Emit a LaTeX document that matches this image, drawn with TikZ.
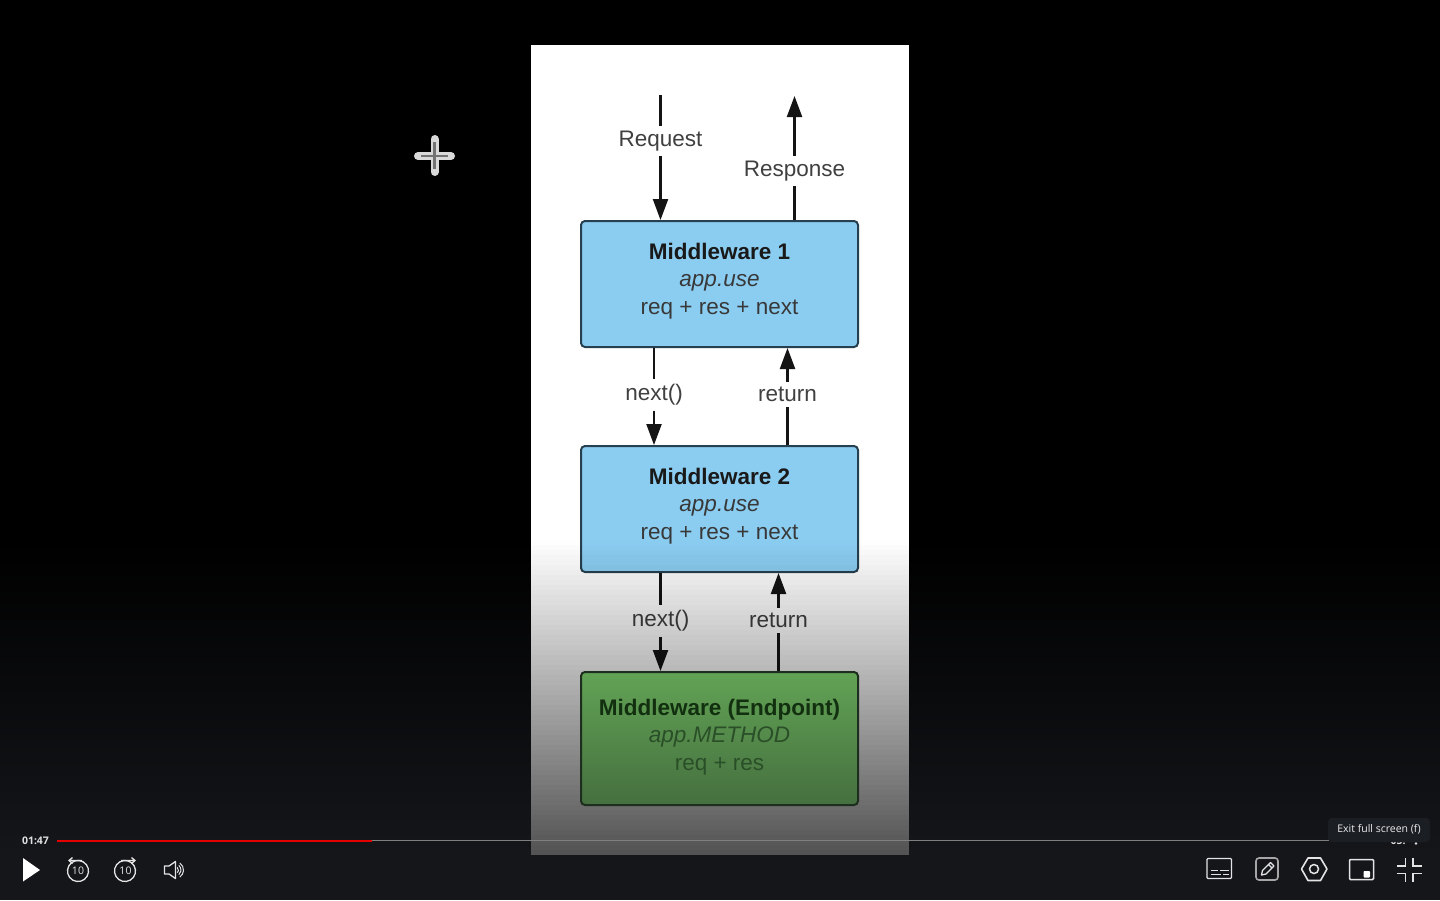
\documentclass[tikz,border=0pt]{standalone}
\usepackage{fontspec}
\setmainfont{Liberation Sans}
\newfontfamily\uifont{Open Sans}
\usetikzlibrary{arrows.meta}
\pgfdeclarelayer{toplayer}
\pgfsetlayers{main,toplayer}
\definecolor{pagetop}{HTML}{000000}
\definecolor{pagebar}{HTML}{14161A}
\definecolor{blueboxfill}{HTML}{8BCDF1}
\definecolor{blueboxline}{HTML}{27404F}
\definecolor{greenboxtop}{HTML}{62A355}
\definecolor{greenboxbottom}{HTML}{456F3F}
\definecolor{greenboxline}{HTML}{1E2E1E}
\definecolor{greentitle}{HTML}{12300F}
\definecolor{greenbody}{HTML}{2A4F28}
\definecolor{tiptone}{HTML}{1B1F24}
\definecolor{icontone}{HTML}{E4E4E4}
\tikzset{
  x=1pt,y=-1pt,
  flowbox/.style={draw=blueboxline,fill=blueboxfill,line width=2pt,rounded corners=4pt,minimum width=277pt,inner sep=0pt},
  endbox/.style={flowbox,draw=greenboxline,top color=greenboxtop,bottom color=greenboxbottom},
  boxtext/.style={align=center,font=\fontsize{22.5}{27.5}\selectfont,text=black!78,inner sep=0pt},
  endtext/.style={boxtext,text=greenbody},
  flowlabel/.style={font=\fontsize{22.5}{26}\selectfont,text=black!75,inner ysep=5pt,inner xsep=1pt},
  flowline/.style={draw=black!92,line width=2.2pt},
  flowarrow/.style={flowline,-{Triangle[length=21pt,width=15pt]}},
  iconline/.style={draw=icontone,line width=1.3pt},
}
\begin{document}
\begin{tikzpicture}
\useasboundingbox (0,0) rectangle (1440,900);
% page
\fill[pagetop] (0,0) rectangle (1440,541);
\shade[top color=pagetop,bottom color=pagebar] (0,540) rectangle (1440,855);
\fill[pagebar] (0,854) rectangle (1440,900);
% slide
\fill[white] (531,45) rectangle (909,855);
% boxes
\node[flowbox,minimum height=126pt] (m1) at (719.5,284) {};
\node[flowbox,minimum height=126pt] (m2) at (719.5,509) {};
\begin{pgfonlayer}{toplayer}
\node[endbox,minimum height=133pt] (m3) at (719.5,738.5) {};
\node[endtext] (m3t) at (719.5,737) {\textbf{\color{greentitle}Middleware (Endpoint)}\\\textit{app.METHOD}\\req + res};
\end{pgfonlayer}
\node[boxtext] (m1t) at (719.5,281) {\textbf{\color{black!90}Middleware 1}\\\textit{app.use}\\req + res + next};
\node[boxtext] (m2t) at (719.5,506) {\textbf{\color{black!90}Middleware 2}\\\textit{app.use}\\req + res + next};
% labels
\node[flowlabel] (req) at (660.5,141) {Request};
\node[flowlabel] (resp) at (794.5,171) {Response};
\node[flowlabel] (n1) at (654,395) {next()};
\node[flowlabel] (r1) at (787.5,394.5) {return};
\node[flowlabel] (n2) at (660.5,621) {next()};
\node[flowlabel] (r2) at (778.5,620.5) {return};
\coordinate (reqstart) at (660.5,95);
\coordinate (respend) at (794.5,96);
% connectors
\draw[flowline] (reqstart) -- (req);
\draw[flowarrow] (req) -- (req |- m1.north);
\draw[flowline] (resp |- m1.north) -- (resp);
\draw[flowarrow] (resp) -- (respend);
\draw[flowline] (n1 |- m1.south) -- (n1);
\draw[flowarrow] (n1) -- (n1 |- m2.north);
\draw[flowline] (r1 |- m2.north) -- (r1);
\draw[flowarrow] (r1) -- (r1 |- m1.south);
\draw[flowline] (n2 |- m2.south) -- (n2);
\draw[flowarrow] (n2) -- (n2 |- m3.north);
\draw[flowline] (r2 |- m3.north) -- (r2);
\draw[flowarrow] (r2) -- (r2 |- m2.south);
% fade of the slide towards the player bar
\foreach \i in {0,...,62}{
  \pgfmathsetmacro{\op}{0.68*(\i+0.5)/63}
  \pgfmathsetmacro{\ya}{540+5*\i}
  \pgfmathsetmacro{\yb}{545+5*\i}
  \fill[black,fill opacity=\op] (531,\ya) rectangle (909,\yb);
}
% cursor
\draw[draw=black!15,line width=8pt,line cap=round] (418,156) -- (451,156) (434.5,139) -- (434.5,172);
\draw[draw=black!55,line width=2.5pt] (421,156) -- (448,156) (434.5,142) -- (434.5,169);
% progress
\fill[black!50] (57,840) rectangle (1330,841);
\fill[red!90!black] (57,839.5) rectangle (372,841.5);
\node[font=\uifont\bfseries\fontsize{10.5}{12}\selectfont,text=white!88!black,inner sep=0pt] (time) at (35.5,840.5) {01:47};
% tooltip
\begin{scope}
\clip (1380,842.5) rectangle (1425,850);
\node[font=\uifont\bfseries\fontsize{10.5}{12}\selectfont,text=white!88!black,inner sep=0pt] (total) at (1398,840.5) {05:};
\fill[white!88!black] (1416,843.5) circle (1.3pt);
\end{scope}
\fill[tiptone,rounded corners=4pt] (1328,818) rectangle (1430,842);
\node[font=\uifont\fontsize{10.5}{12}\selectfont,text=white!92!black,inner sep=0pt] (tip) at (1379,829) {Exit full screen (f)};
% play
\fill[white] (23,858) -- (40,870) -- (23,881.5) -- cycle;
% back 10
\draw[iconline] (78,871) ++(150:10.5pt) arc[start angle=150,end angle=-290,radius=10.5pt]; 
\draw[iconline] (82,860.5) -- (69,860.5) (72.5,857.5) -- (69,860.5) -- (72.5,863.5);
\node[font=\uifont\fontsize{10.5}{12}\selectfont,text=icontone,inner sep=0pt] (back) at (78,871) {10};
% forward 10
\draw[iconline] (125,871) ++(30:10.5pt) arc[start angle=30,end angle=470,radius=10.5pt];
\draw[iconline] (121,860.5) -- (135,860.5) (131.5,857.5) -- (135,860.5) -- (131.5,863.5);
\node[font=\uifont\fontsize{10.5}{12}\selectfont,text=icontone,inner sep=0pt] (fwd) at (125.5,871) {10};
% speaker
\draw[iconline,line join=round] (164.5,866) -- (169,866) -- (175.5,861.5) -- (175.5,878.5) -- (169,874) -- (164.5,874) -- cycle;
\draw[iconline,line width=1pt] (175,870) ++(50:3.5pt) arc[start angle=50,end angle=-50,radius=3.5pt];
\draw[iconline,line width=1pt] (175,870) ++(50:6pt) arc[start angle=50,end angle=-50,radius=6pt];
\draw[iconline,line width=1pt] (175,870) ++(55:8.5pt) arc[start angle=55,end angle=-55,radius=8.5pt];
% subtitles
\draw[iconline,rounded corners=1pt] (1207,858.5) rectangle (1231.5,878.5);
\draw[iconline] (1210.5,870.5) -- (1218,870.5) (1220,870.5) -- (1228.5,870.5) (1210.5,874.5) -- (1221,874.5) (1223,874.5) -- (1228.5,874.5);
% note
\draw[iconline,draw=black!35!white,line width=1.6pt,rounded corners=3pt] (1256,858) rectangle (1278,880);
\draw[iconline,line join=round] (1261.5,875) -- (1262.5,870.5) -- (1270.5,862.5) -- (1274,866) -- (1266,874) -- cycle (1268.5,864.5) -- (1272,868);
% settings
\draw[iconline,line width=1.6pt,line join=round] (1301.5,869) -- (1308,858) -- (1320.5,858) -- (1327,869) -- (1320.5,880.5) -- (1308,880.5) -- cycle;
\draw[iconline,line width=1.5pt] (1314,869) circle (4.5pt);
% mini player
\draw[iconline,line width=1.5pt,rounded corners=1pt] (1349.5,859.5) rectangle (1373.5,879.5);
\fill[white,rounded corners=.8pt] (1363.5,871) rectangle (1370,877.5);
% exit full screen
\draw[iconline] (1397,866) -- (1405.5,866) -- (1405.5,858)
  (1413,858) -- (1413,866) -- (1421.5,866)
  (1397,873.5) -- (1405.5,873.5) -- (1405.5,881.5)
  (1413,881.5) -- (1413,873.5) -- (1421.5,873.5);
\end{tikzpicture}
\end{document}
